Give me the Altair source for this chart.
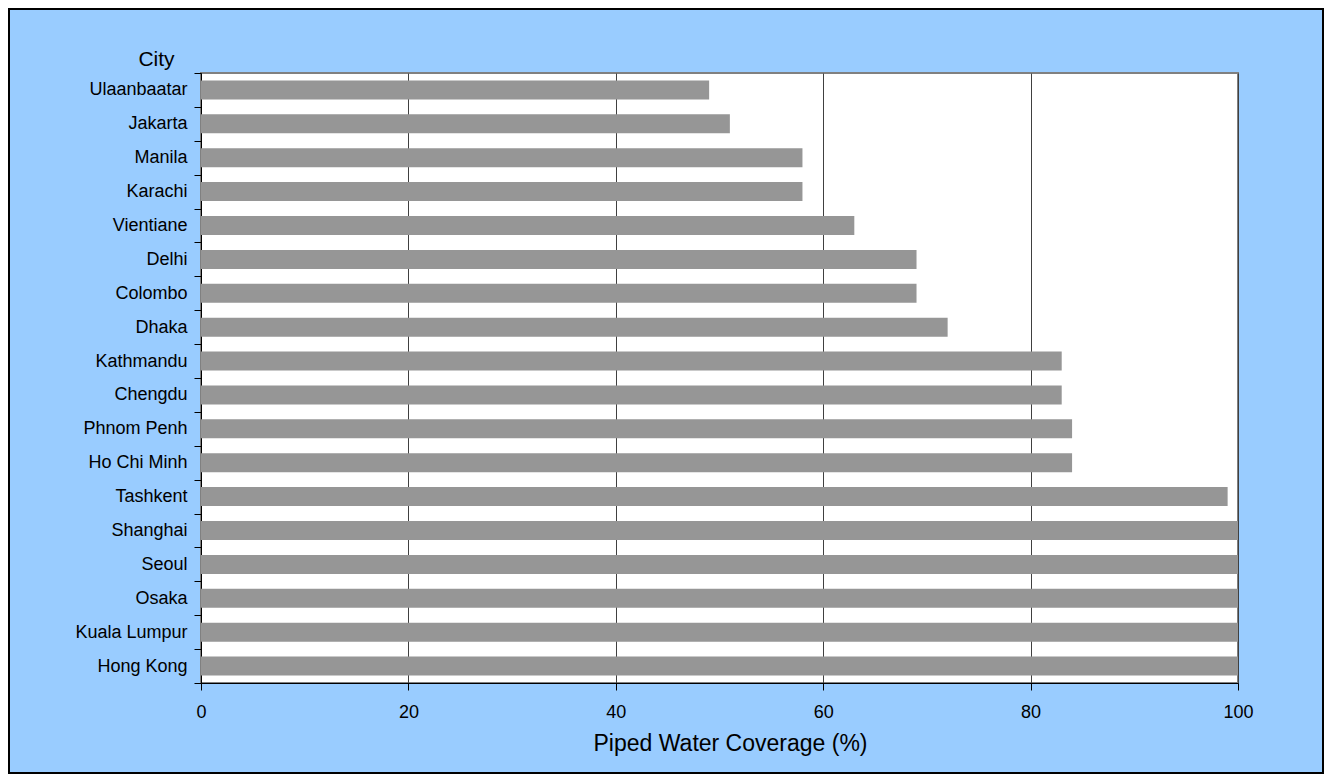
import altair as alt
import pandas as pd

cities = ["Ulaanbaatar", "Jakarta", "Manila", "Karachi", "Vientiane", "Delhi",
          "Colombo", "Dhaka", "Kathmandu", "Chengdu", "Phnom Penh", "Ho Chi Minh",
          "Tashkent", "Shanghai", "Seoul", "Osaka", "Kuala Lumpur", "Hong Kong"]
coverage = [49, 51, 58, 58, 63, 69, 69, 72, 83, 83, 84, 84, 99, 100, 100, 100, 100, 100]
x_ticks = [0, 20, 40, 60, 80, 100]

df = pd.DataFrame({"City": cities, "Coverage": coverage})

W, H = 1037, 610
PL, PT, PR, PB = 193, 65, 86, 91
FONT = "Liberation Sans"

bars = alt.Chart(df).mark_bar(color="#969696", size=19).encode(
    x=alt.X("Coverage:Q",
            scale=alt.Scale(domain=[0, 100], nice=False, zero=True),
            axis=alt.Axis(values=x_ticks, title="Piped Water Coverage (%)",
                          grid=True, gridColor="#404040", gridWidth=1,
                          domainColor="#000000", domainWidth=1,
                          tickColor="#000000", tickSize=7,
                          labelFont=FONT, labelFontSize=18, labelColor="#000000",
                          labelPadding=13, labelFlush=False,
                          titleFont=FONT, titleFontSize=23, titleFontWeight="normal",
                          titleColor="#000000", titleAnchor="start", titleAlign="center",
                          titleBaseline="alphabetic", titleX=529, titleY=67)),
    y=alt.Y("City:N", sort=None,
            scale=alt.Scale(paddingInner=0, paddingOuter=0),
            axis=alt.Axis(title="City", tickBand="extent", grid=False,
                          domainColor="#000000", domainWidth=1,
                          tickColor="#000000", tickSize=7,
                          labelFont=FONT, labelFontSize=18, labelColor="#000000",
                          labelPadding=7,
                          titleFont=FONT, titleFontSize=21, titleFontWeight="normal",
                          titleColor="#000000", titleAngle=0, titleAlign="center",
                          titleBaseline="alphabetic", titleX=-45, titleY=-8)),
)

frame = alt.Chart(pd.DataFrame({"k": [0]})).mark_rect(
    fill=None, stroke="#000000", strokeWidth=2, clip=False
).encode(
    x=alt.value(-PL + 1), x2=alt.value(W + PR - 1),
    y=alt.value(-PT + 1), y2=alt.value(H + PB - 1),
)

chart = alt.layer(bars, frame).properties(
    width=W, height=H,
    background="#99CCFF",
    padding={"left": PL, "top": PT, "right": PR, "bottom": PB},
    autosize=alt.AutoSizeParams(type="none"),
).configure_view(
    fill="#FFFFFF", stroke="#808080", strokeWidth=2
)

chart.save("out.html", embed_options={"renderer": "svg", "actions": False})
